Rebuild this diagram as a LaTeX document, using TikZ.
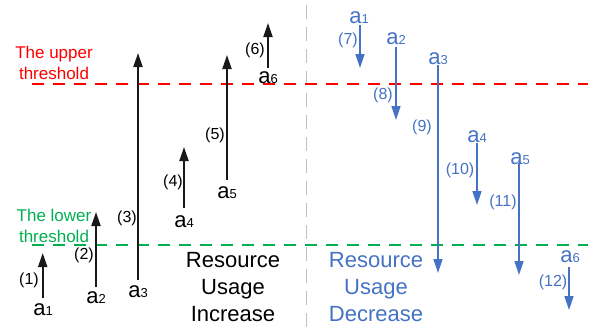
\documentclass[tikz,border=0pt]{standalone}
\usepackage{fontspec}
\setmainfont{Liberation Sans}
\usetikzlibrary{arrows.meta}
\definecolor{myblue}{HTML}{4472C4}
\definecolor{mygreen}{HTML}{00B050}
\definecolor{myred}{HTML}{FF0000}
\definecolor{mygray}{HTML}{BFBFBF}
\newcommand{\alab}[1]{{\fontsize{22}{22}\selectfont a}{\fontsize{13}{13}\selectfont #1}}
\begin{document}
\begin{tikzpicture}[x=1pt,y=-1pt,
  uparr/.style={line width=2pt, black!90, -{Triangle[width=9pt,length=14pt]}},
  downarr/.style={line width=1.6pt, myblue, -{Triangle[width=9pt,length=14pt]}},
  alabel/.style={inner sep=0pt, anchor=base},
  numlab/.style={inner sep=0pt, font=\fontsize{16}{16}\selectfont},
  threshtxt/.style={inner sep=0pt, anchor=base, align=center, font=\fontsize{17}{21}\selectfont},
  bigtxt/.style={inner sep=0pt, anchor=base, align=center, font=\fontsize{22}{27}\selectfont},
  threshline/.style={line width=2pt, dash pattern=on 12pt off 9pt}
]
\useasboundingbox (0,0) rectangle (599,335);
% divider
\coordinate (gtop) at (306.5,5);
\coordinate (gbot) at (306.5,327);
\draw[mygray, line width=1.5pt, dash pattern=on 14pt off 8pt] (gtop) -- (gbot);
% thresholds
\coordinate (ul) at (32,83.5); \coordinate (ur) at (588,83.5);
\coordinate (ll) at (32,244.5); \coordinate (lr) at (588,244.5);
\draw[threshline, myred] (ul) -- (ur);
\draw[threshline, mygreen] (ll) -- (lr);
\node[threshtxt, text=myred] (uppertxt) at (54,79) {The upper\\threshold};
\node[threshtxt, text=mygreen] (lowertxt) at (54,242) {The lower\\threshold};
\node[bigtxt, text=black] (inc) at (233,321) {Resource\\Usage\\Increase};
\node[bigtxt, text=myblue] (dec) at (376,321) {Resource\\Usage\\Decrease};
% increase arrows
\node[alabel] (ia1) at (43,315) {\alab{1}};
\node[alabel] (ia2) at (96,303) {\alab{2}};
\node[alabel] (ia3) at (138,297) {\alab{3}};
\node[alabel] (ia4) at (184,227) {\alab{4}};
\node[alabel] (ia5) at (227,198) {\alab{5}};
\node[alabel] (ia6) at (268,83) {\alab{6}};
\coordinate (is1) at (42.7,298); \coordinate (it1) at (42.7,253);
\coordinate (is2) at (96,287); \coordinate (it2) at (96,212);
\coordinate (is3) at (138,280); \coordinate (it3) at (138,53);
\coordinate (is4) at (184,208); \coordinate (it4) at (184,147);
\coordinate (is5) at (227,180); \coordinate (it5) at (227,55);
\coordinate (is6) at (268,68); \coordinate (it6) at (268,23);
\foreach \i in {1,...,6} {\draw[uparr] (is\i) -- (it\i);}
\node[numlab] (n1) at (29,280) {(1)};
\node[numlab] (n2) at (84,255) {(2)};
\node[numlab] (n3) at (127,218) {(3)};
\node[numlab] (n4) at (173,182) {(4)};
\node[numlab] (n5) at (215,135) {(5)};
\node[numlab] (n6) at (255,50) {(6)};
% decrease arrows
\begin{scope}[text=myblue]
\node[alabel] (da1) at (359,23) {\alab{1}};
\node[alabel] (da2) at (396,44) {\alab{2}};
\node[alabel] (da3) at (438,64) {\alab{3}};
\node[alabel] (da4) at (477,142) {\alab{4}};
\node[alabel] (da5) at (520,164) {\alab{5}};
\node[alabel] (da6) at (570,262) {\alab{6}};
\node[numlab] (n7) at (348,40) {(7)};
\node[numlab] (n8) at (383,95) {(8)};
\node[numlab] (n9) at (422,127) {(9)};
\node[numlab] (n10) at (460,170) {(10)};
\node[numlab] (n11) at (503,202) {(11)};
\node[numlab] (n12) at (553,282) {(12)};
\end{scope}
\coordinate (ds1) at (360,25); \coordinate (dt1) at (360,68);
\coordinate (ds2) at (396,47); \coordinate (dt2) at (396,120);
\coordinate (ds3) at (438,65); \coordinate (dt3) at (438,273);
\coordinate (ds4) at (477,143); \coordinate (dt4) at (477,205);
\coordinate (ds5) at (519,163); \coordinate (dt5) at (519,275);
\coordinate (ds6) at (569,267); \coordinate (dt6) at (569,310);
\foreach \i in {1,...,6} {\draw[downarr] (ds\i) -- (dt\i);}
\end{tikzpicture}
\end{document}
